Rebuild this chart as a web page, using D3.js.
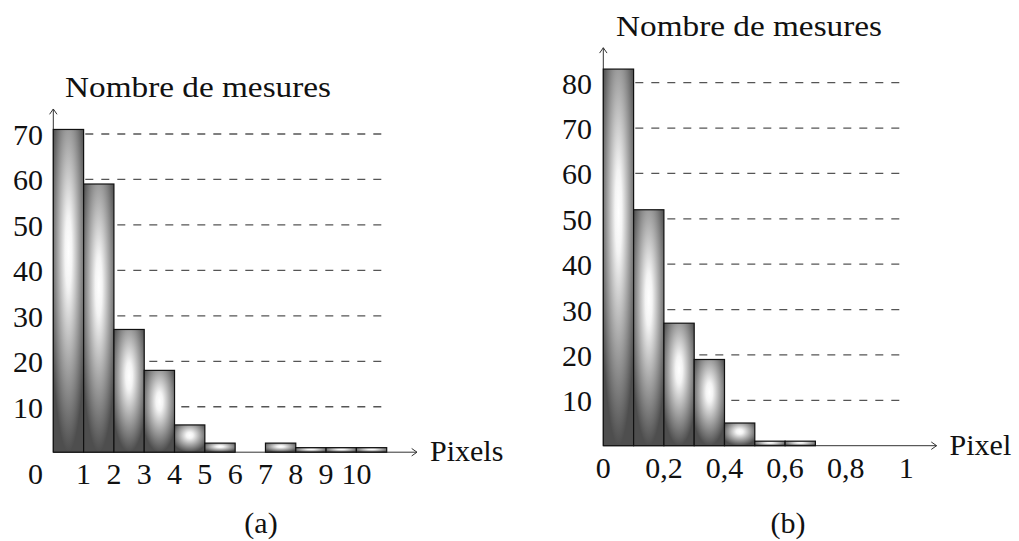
<!DOCTYPE html>
<html>
<head>
<meta charset="utf-8">
<script src="https://cdn.jsdelivr.net/npm/d3@7"></script>
<style>
  html, body { margin: 0; padding: 0; background: #fff; }
  svg { display: block; }
  text { font-family: "Liberation Serif", "Times New Roman", serif; fill: #111; }
</style>
</head>
<body>
<svg id="chart" width="1019" height="541"></svg>
<script>
// ---- Data: panel (a) ----
const binStartsA = [0, 1, 2, 3, 4, 5, 6, 7, 8, 9, 10];
const valuesA = [71, 59, 27, 18, 6, 2, 0, 2, 1, 1, 1];
const xTicksA = [1, 2, 3, 4, 5, 6, 7, 8, 9, 10];
const yTicksA = [10, 20, 30, 40, 50, 60, 70];
const binWidthA = 1;

// ---- Data: panel (b) ----
const binStartsB = [0, 0.1, 0.2, 0.3, 0.4, 0.5, 0.6];
const valuesB = [83, 52, 27, 19, 5, 1, 1];
const xTicksB = [0, 0.2, 0.4, 0.6, 0.8, 1];
const xTickLabelsB = ["0", "0,2", "0,4", "0,6", "0,8", "1"];
const yTicksB = [10, 20, 30, 40, 50, 60, 70, 80];
const binWidthB = 0.1;

const yTitle = "Nombre de mesures";

const svg = d3.select("#chart");
const defs = svg.append("defs");
const grad = defs.append("radialGradient")
  .attr("id", "barShade")
  .attr("cx", "50%").attr("cy", "38%").attr("r", "62%")
  .attr("fx", "50%").attr("fy", "38%");
grad.append("stop").attr("offset", "0%").attr("stop-color", "#ffffff");
grad.append("stop").attr("offset", "18%").attr("stop-color", "#f4f4f4");
grad.append("stop").attr("offset", "55%").attr("stop-color", "#a8a8a8");
grad.append("stop").attr("offset", "100%").attr("stop-color", "#4e4e4e");

function arrowHead(g, x, y, dir) {
  // open chevron arrow tip like TikZ "->"
  const L = 5, W = 3.5;
  let p;
  if (dir === "up") p = `M${x - W},${y + L} L${x},${y} L${x + W},${y + L}`;
  else p = `M${x - L},${y - W} L${x},${y} L${x - L},${y + W}`;
  g.append("path").attr("d", p).attr("fill", "none")
    .attr("stroke", "#333").attr("stroke-width", 1).attr("stroke-linecap", "round");
}

function panel(cfg) {
  const g = svg.append("g");
  const x = d3.scaleLinear().domain(cfg.xDomain).range(cfg.xRange);
  const y = d3.scaleLinear().domain(cfg.yDomain).range(cfg.yRange);

  // dashed guide lines
  g.selectAll("line.grid").data(cfg.yTicks).enter().append("line")
    .attr("class", "grid")
    .attr("x1", x(0)).attr("x2", x(cfg.gridEnd))
    .attr("y1", d => y(d)).attr("y2", d => y(d))
    .attr("stroke", "#555").attr("stroke-width", 1.3)
    .attr("stroke-dasharray", "8,8");

  // axes
  g.append("line")
    .attr("x1", x(0)).attr("x2", x(cfg.xAxisEnd))
    .attr("y1", y(0)).attr("y2", y(0))
    .attr("stroke", "#333").attr("stroke-width", 1);
  arrowHead(g, x(cfg.xAxisEnd), y(0), "right");
  g.append("line")
    .attr("x1", x(0)).attr("x2", x(0))
    .attr("y1", y(0)).attr("y2", y(cfg.yAxisEnd))
    .attr("stroke", "#333").attr("stroke-width", 1);
  arrowHead(g, x(0), y(cfg.yAxisEnd), "up");

  // bars
  const bars = cfg.starts.map((s, i) => ({ s, v: cfg.values[i] })).filter(d => d.v > 0);
  g.selectAll("rect.bar").data(bars).enter().append("rect")
    .attr("class", "bar")
    .attr("x", d => x(d.s))
    .attr("width", d => x(d.s + cfg.binWidth) - x(d.s))
    .attr("y", d => y(d.v))
    .attr("height", d => y(0) - y(d.v))
    .attr("fill", "url(#barShade)")
    .attr("stroke", "#111").attr("stroke-width", 1.2);

  // y tick labels
  g.selectAll("text.ytick").data(cfg.yTicks).enter().append("text")
    .attr("class", "ytick")
    .attr("x", cfg.yLabelRight)
    .attr("y", d => y(d) + 11)
    .attr("text-anchor", "end")
    .attr("font-size", 30)
    .text(d => d);

  // x tick labels
  g.selectAll("text.xtick").data(cfg.xTicks).enter().append("text")
    .attr("class", "xtick")
    .attr("x", d => x(d))
    .attr("y", y(0) + 32)
    .attr("text-anchor", "middle")
    .attr("font-size", 30)
    .text((d, i) => cfg.xTickLabels[i]);

  if (cfg.originLabel) {
    g.append("text")
      .attr("x", cfg.yLabelRight)
      .attr("y", y(0) + 32)
      .attr("text-anchor", "end")
      .attr("font-size", 30)
      .text(cfg.originLabel);
  }

  // axis titles
  g.append("text")
    .attr("x", cfg.titleX).attr("y", cfg.titleY)
    .attr("font-size", 30)
    .attr("textLength", 266).attr("lengthAdjust", "spacingAndGlyphs")
    .text(yTitle);
  g.append("text")
    .attr("x", x(cfg.xAxisEnd) + 13).attr("y", y(0) + 9)
    .attr("font-size", 30)
    .text(cfg.xTitle);

  // caption
  g.append("text")
    .attr("x", cfg.captionX).attr("y", 533)
    .attr("text-anchor", "middle")
    .attr("font-size", 30)
    .text(cfg.caption);
}

panel({
  starts: binStartsA, values: valuesA, binWidth: binWidthA,
  xDomain: [0, 11], xRange: [53.3, 386.7],
  yDomain: [0, 70], yRange: [452.2, 134],
  yTicks: yTicksA, xTicks: xTicksA, xTickLabels: xTicksA.map(String),
  originLabel: "0",
  gridEnd: 11, xAxisEnd: 12, yAxisEnd: 75.5,
  yLabelRight: 43,
  titleX: 65, titleY: 97,
  xTitle: "Pixels", caption: "(a)", captionX: 261
});

panel({
  starts: binStartsB, values: valuesB, binWidth: binWidthB,
  xDomain: [0, 1], xRange: [603.3, 906.3],
  yDomain: [0, 80], yRange: [445.7, 82.7],
  yTicks: yTicksB, xTicks: xTicksB, xTickLabels: xTickLabelsB,
  originLabel: null,
  gridEnd: 1, xAxisEnd: 1.1, yAxisEnd: 87.7,
  yLabelRight: 592,
  titleX: 616, titleY: 36,
  xTitle: "Pixel", caption: "(b)", captionX: 788
});
</script>
</body>
</html>
